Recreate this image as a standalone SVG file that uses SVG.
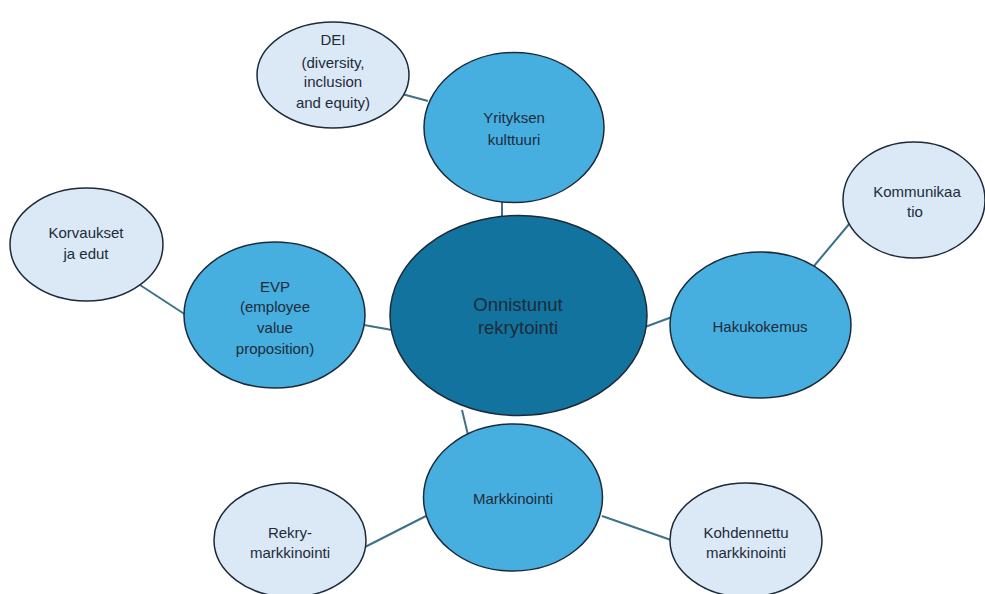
<svg xmlns="http://www.w3.org/2000/svg" width="985" height="594" viewBox="0 0 985 594">
<style>
.n ellipse{stroke:#1c2b3a;stroke-width:1.5}
.c{fill:#12739f}
.m{fill:#46afe0}
.l{fill:#dbe8f6}
text{font-family:"Liberation Sans",Arial,sans-serif;font-size:15px;fill:#1d2b3a;text-anchor:middle}
.big{font-size:18.5px}
#edges line{stroke:#3d7189;stroke-width:2}
</style>
<rect width="985" height="594" fill="#ffffff"/>
<g id="edges">
<line x1="402" y1="94" x2="428" y2="101"/>
<line x1="502" y1="200" x2="502" y2="218"/>
<line x1="140" y1="285" x2="186" y2="315"/>
<line x1="364" y1="325" x2="392" y2="330"/>
<line x1="645" y1="327" x2="672" y2="317"/>
<line x1="814" y1="266" x2="850" y2="223"/>
<line x1="462" y1="410" x2="468" y2="435"/>
<line x1="365" y1="547" x2="426" y2="516"/>
<line x1="602" y1="516" x2="671" y2="540"/>
</g>
<g id="center" class="n"><ellipse class="c" cx="518.5" cy="315.5" rx="128.5" ry="100"/><text class="big" x="518" y="311">Onnistunut</text><text class="big" x="518" y="334">rekrytointi</text></g>
<g id="kulttuuri" class="n"><ellipse class="m" cx="514" cy="127.5" rx="90" ry="75"/><text x="514" y="123">Yrityksen</text><text x="514" y="145">kulttuuri</text></g>
<g id="dei" class="n"><ellipse class="l" cx="333" cy="75" rx="76" ry="53"/><text x="333" y="45">DEI</text><text x="333" y="68">(diversity,</text><text x="333" y="87">inclusion</text><text x="333" y="108">and equity)</text></g>
<g id="evp" class="n"><ellipse class="m" cx="274.5" cy="315" rx="90.5" ry="73"/><text x="275" y="292">EVP</text><text x="275" y="312">(employee</text><text x="275" y="333">value</text><text x="275" y="354">proposition)</text></g>
<g id="korvaukset" class="n"><ellipse class="l" cx="86.5" cy="244.5" rx="76.5" ry="56.5"/><text x="86" y="238">Korvaukset</text><text x="86" y="259">ja edut</text></g>
<g id="hakukokemus" class="n"><ellipse class="m" cx="760.5" cy="325" rx="90.5" ry="73"/><text x="760" y="332">Hakukokemus</text></g>
<g id="kommunikaatio" class="n"><ellipse class="l" cx="914" cy="200" rx="71" ry="58"/><text x="917" y="197">Kommunikaa</text><text x="915" y="217">tio</text></g>
<g id="markkinointi" class="n"><ellipse class="m" cx="513" cy="497.5" rx="89.5" ry="73.5"/><text x="513" y="504">Markkinointi</text></g>
<g id="rekry" class="n"><ellipse class="l" cx="290" cy="540" rx="76" ry="57"/><text x="290" y="538">Rekry-</text><text x="290" y="558">markkinointi</text></g>
<g id="kohdennettu" class="n"><ellipse class="l" cx="746" cy="540" rx="76" ry="57"/><text x="746" y="538">Kohdennettu</text><text x="746" y="558">markkinointi</text></g>
</svg>
